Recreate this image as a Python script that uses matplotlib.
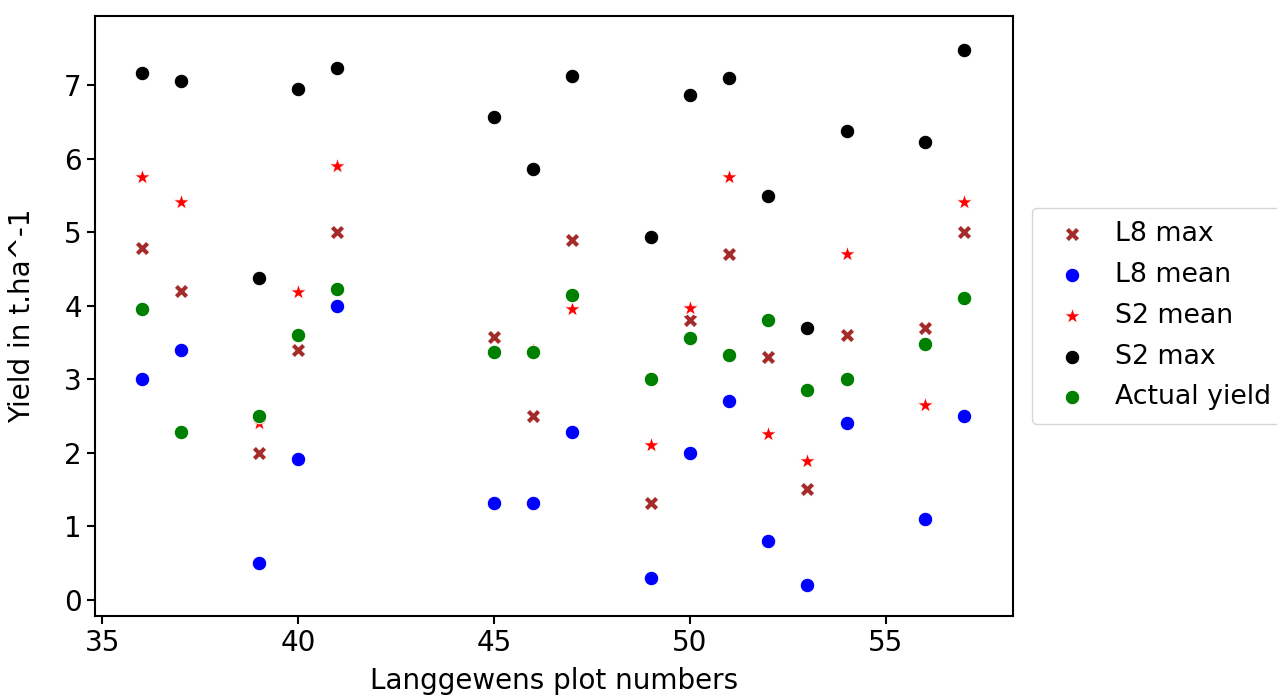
import matplotlib
matplotlib.use("Agg")
import matplotlib.pyplot as plt

plots = [36, 37, 39, 40, 41, 45, 46, 47, 49, 50, 51, 52, 53, 54, 56, 57]
l8_max = [4.78, 4.20, 2.00, 3.40, 5.00, 3.58, 2.50, 4.90, 1.31, 3.80, 4.70, 3.30, 1.50, 3.60, 3.70, 5.00]
l8_mean = [3.00, 3.40, 0.50, 1.92, 4.00, 1.31, 1.31, 2.28, 0.30, 2.00, 2.70, 0.80, 0.20, 2.40, 1.10, 2.50]
s2_mean = [5.75, 5.41, 2.40, 4.19, 5.90, None, 3.40, 3.96, 2.10, 3.97, 5.75, 2.25, 1.88, 4.70, 2.65, 5.41]
s2_max = [7.17, 7.06, 4.37, 6.95, 7.24, 6.57, 5.86, 7.13, 4.93, 6.87, 7.10, 5.49, 3.70, 6.38, 6.23, 7.48]
actual = [3.96, 2.28, 2.50, 3.60, 4.22, 3.37, 3.37, 4.15, 3.00, 3.56, 3.33, 3.81, 2.85, 3.00, 3.48, 4.11]

series = [
    ("L8 max", l8_max, "brown", "X"),
    ("L8 mean", l8_mean, "blue", "o"),
    ("S2 mean", s2_mean, "red", "*"),
    ("S2 max", s2_max, "black", "o"),
    ("Actual yield", actual, "green", "o"),
]

plt.rcParams['font.family'] = ['DejaVu Sans']
plt.rcParams['font.size'] = 20

fig = plt.figure(figsize=(12.77, 6.99), dpi=100)
ax = fig.add_axes([0.0744, 0.119, 0.7189, 0.858])

for name, vals, color, marker in series:
    xs = [x for x, v in zip(plots, vals) if v is not None]
    ys = [v for v in vals if v is not None]
    size = 160 if marker == "*" else 110
    ax.scatter(xs, ys, s=size, c=color, marker=marker, edgecolors="white",
               linewidths=0.75, label=name)

ax.set_xlim(34.81, 58.25)
ax.set_ylim(-0.22, 7.94)
ax.set_xticks([35, 40, 45, 50, 55])
ax.set_yticks(range(0, 8))
ax.tick_params(labelsize=20, width=1.5, length=6)
for sp in ax.spines.values():
    sp.set_linewidth(1.5)
ax.set_xlabel("Langgewens plot numbers", fontsize=20, labelpad=7)
ax.set_ylabel("Yield in t.ha^-1", fontsize=20, labelpad=20)
ax.legend(loc="center left", bbox_to_anchor=(1.0, 0.5), fontsize=19.3,
          borderpad=0.5, handletextpad=0.6, labelspacing=0.55,
          borderaxespad=0.7)

fig.savefig("out.png", dpi=100)
